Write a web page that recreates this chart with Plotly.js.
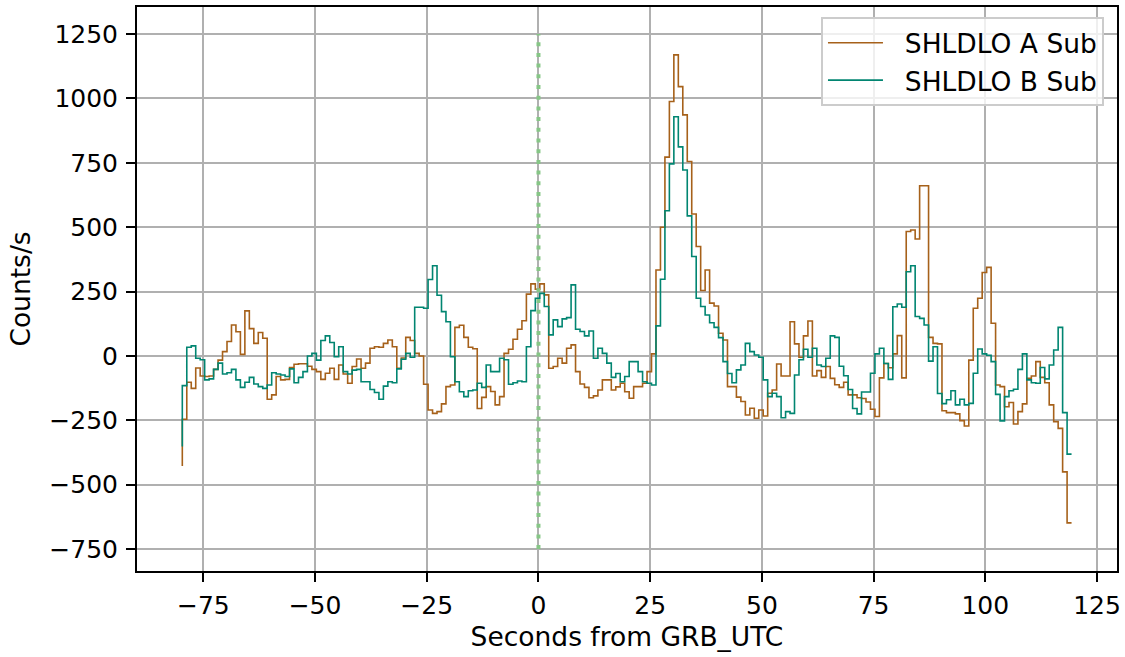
<!DOCTYPE html>
<html>
<head>
<meta charset="utf-8">
<script src="https://cdn.plot.ly/plotly-3.0.1.min.js"></script>
<style>
  html, body { margin: 0; padding: 0; background: #ffffff; }
  #chart { width: 1125px; height: 657px; }
</style>
</head>
<body>
<div id="chart"></div>
<script>
// Time binning (seconds from GRB_UTC): first bin edge and bin width
const timeStart = -79.7;
const binWidth = 1.0;

// Background-subtracted count rates (counts/s), matplotlib "steps-pre" samples
const seriesNames = ["SHLDLO A Sub", "SHLDLO B Sub"];

const subA = [
  -427, -246, -102, -126, -47, -78, -80, -78, -52, -16,
  17, 56, 120, 94, 6, 175, 106, 49, 91, 69,
  -168, -151, -80, -93, -91, -45, -32, -30, -30, -40,
  -52, -61, -91, -67, -48, -91, -35, -70, -106, -41,
  -12, -48, -28, 30, 36, 34, 49, 62, 36, -48,
  -8, 72, 60, 10, 0, -110, -210, -223, -216, -186,
  -119, -113, 111, 119, 72, 34, 28, -204, -161, -119,
  -138, -190, -158, 10, 26, 65, 104, 137, 240, 280,
  259, 280, 237, -48, -41, -9, -28, 30, 43, -61,
  -109, -122, -162, -155, -132, -93, -93, -132, -120, -106,
  -139, -164, -119, -119, -106, -61, 8, 334, 500, 772,
  988, 1169, 1046, 936, 755, 551, 425, 254, 334, 205,
  194, 88, 62, -119, -119, -160, -177, -229, -203, -242,
  -210, -233, -145, -132, -31, -78, -78, 133, 47, -5,
  78, 136, -78, -57, -83, -41, -87, -112, -122, -102,
  -151, -151, -162, -165, -179, -207, -235, -85, -29, -46,
  8, 79, -85, 483, 489, 454, 661, 661, 72, 49,
  47, -213, -220, -220, -225, -251, -272, -16, 185, 224,
  324, 344, 127, -113, -119, -197, -181, -264, -216, -186,
  -87, -78, -22, -83, -104, -190, -255, -281, -450, -648
];

const subB = [
  -352, -115, 34, 39, -9, -15, -93, -89, -52, -28,
  -70, -65, -52, -93, -122, -102, -83, -109, -119, -126,
  -113, -65, -70, -74, -80, -50, -104, -83, -61, 0,
  10, -16, 60, 78, 52, -3, 36, -61, -70, -55,
  -52, -100, -100, -130, -142, -168, -117, -100, -104, -50,
  -13, 10, -5, 189, 189, 185, 297, 350, 236, 172,
  133, -3, -100, -139, -158, -135, -132, -106, -122, -35,
  -61, -61, -9, -15, -110, -104, -97, -100, 36, 176,
  224, 243, 192, 82, 140, 114, 144, 149, 276, 104,
  95, 78, 97, -9, 30, 10, -28, -83, -68, -100,
  -80, -22, -22, -61, -100, -106, -113, 117, 298, 564,
  746, 929, 812, 722, 544, 386, 224, 192, 159, 129,
  111, 71, -22, -68, -104, -54, -35, 49, 17, 4,
  -5, -93, -158, -145, -158, -240, -216, -223, -74, -15,
  26, -5, 30, -35, -41, -9, 78, 72, -40, -77,
  -130, -204, -225, -140, -140, -67, 8, 30, -29, -91,
  191, 202, 189, 327, 350, 153, 146, 120, -20, 36,
  -146, -185, -170, -135, -190, -168, -190, -184, -67, 27,
  8, 3, -22, -149, -252, -158, -135, -129, -52, 8,
  -93, -104, -106, -45, -89, -35, 23, 111, -220, -381
];

// Axis ticks
const xTicks = [-75, -50, -25, 0, 25, 50, 75, 100, 125];
const yTicks = [-750, -500, -250, 0, 250, 500, 750, 1000, 1250];

// Trigger marker (vertical dotted line at t = 0)
const triggerTime = 0;
const triggerSpan = [-750, 1250];

const times = subA.map((_, i) => +(timeStart + i * binWidth).toFixed(3));

const colA = '#a6611a';
const colB = '#018571';
const FONT = 'DejaVu Sans, Liberation Sans, sans-serif';
const FS = 25;
const FS_T = 26.5;
const GAP = '\u00a0\u00a0';

const traces = [
  {
    x: times, y: subA, name: GAP + seriesNames[0], type: 'scatter', mode: 'lines',
    line: { color: colA, width: 1.6, shape: 'vh' }, legendgroup: 'a', hoverinfo: 'skip'
  },
  {
    x: times, y: subB, name: GAP + seriesNames[1], type: 'scatter', mode: 'lines',
    line: { color: colB, width: 1.6, shape: 'vh' }, legendgroup: 'b', hoverinfo: 'skip'
  }
];

const axisCommon = {
  showline: true, linecolor: '#000000', linewidth: 2, mirror: true,
  ticks: 'outside', ticklen: 9, tickwidth: 2, tickcolor: '#000000',
  showgrid: true, gridcolor: '#b0b0b0', gridwidth: 2,
  zeroline: false, tickfont: { family: FONT, size: FS, color: '#000000' }
};

const layout = {
  width: 1125, height: 657,
  margin: { l: 137, r: 8, t: 7, b: 86 },
  paper_bgcolor: '#ffffff', plot_bgcolor: '#ffffff',
  font: { family: FONT, size: FS, color: '#000000' },
  xaxis: Object.assign({}, axisCommon, {
    range: [-89.84, 129.47], tickvals: xTicks,
    ticktext: xTicks.map(v => v < 0 ? '\u2212' + Math.abs(v) : String(v)),
    ticklabelstandoff: 2,
    title: { text: 'Seconds from GRB_UTC', font: { family: FONT, size: FS_T }, standoff: 8 }
  }),
  yaxis: Object.assign({}, axisCommon, {
    range: [-835, 1355], tickvals: yTicks,
    ticktext: yTicks.map(v => v < 0 ? '\u2212' + Math.abs(v) : String(v)),
    ticklabelstandoff: 3,
    title: { text: 'Counts/s', font: { family: FONT, size: FS_T }, standoff: 11 }
  }),
  showlegend: true,
  legend: {
    x: 0.9867, y: 0.9823, xanchor: 'right', yanchor: 'top',
    bgcolor: 'rgba(255,255,255,0.8)', bordercolor: '#cccccc', borderwidth: 2,
    font: { family: FONT, size: FS_T, color: '#000000' },
    traceorder: 'grouped', tracegroupgap: 0, itemwidth: 55
  },
  shapes: [{
    type: 'line', xref: 'x', yref: 'y',
    x0: triggerTime, x1: triggerTime, y0: triggerSpan[0], y1: triggerSpan[1],
    line: { color: '#86c686', width: 4, dash: '4px,6.7px' }, layer: 'above'
  }]
};

Plotly.newPlot('chart', traces, layout, { displayModeBar: false, staticPlot: true });
</script>
</body>
</html>
